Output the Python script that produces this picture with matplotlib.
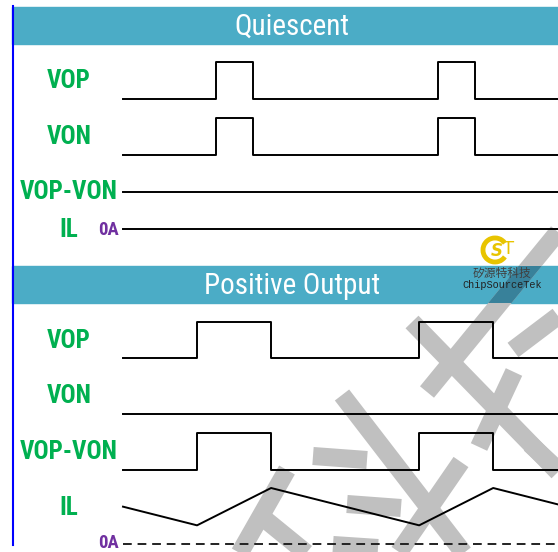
import matplotlib
matplotlib.use("Agg")
import matplotlib.pyplot as plt
from matplotlib.patches import Rectangle, Arc
from matplotlib.lines import Line2D

# --- data -------------------------------------------------------------
# time in units of the quiescent pulse width
t_end = 11.75
quiescent_edges = [2.5, 3.5, 8.5, 9.5]   # VOP and VON pulses (in phase)
positive_vop_edges = [2.0, 4.0, 8.0, 10.0]
positive_von_edges = []                   # VON stays low
il_time = [0, 2, 4, 8, 10, 11.75]
il_amp = [1.0, 0.5, 1.5, 0.5, 1.5, 1.06]  # inductor current, 0A = 0

quiescent_labels = ["VOP", "VON", "VOP-VON", "IL"]
positive_labels = ["VOP", "VON", "VOP-VON", "IL"]
titles = ["Quiescent", "Positive Output"]

# --- style ------------------------------------------------------------
W, H = 558, 552
header_color = "#4BACC6"
green = "#00B050"
purple = "#7030A0"
font = ["Roboto Condensed", "DejaVu Sans"]


def square(edges):
    t, y, level = [0], [0], 0
    for e in edges:
        t += [e, e]
        y += [level, 1 - level]
        level = 1 - level
    t.append(t_end)
    y.append(level)
    return t, y


def fx(x):
    return x / W


def fy(y):
    return 1 - y / H


fig = plt.figure(figsize=(W / 100, H / 100), dpi=100)


def row_axes(y_base, y_top, ymax=1.0):
    ax = fig.add_axes([fx(123), fy(y_base), fx(W - 123), (y_base - y_top) / H])
    ax.set_xlim(0, t_end)
    ax.set_ylim(0, ymax)
    ax.axis("off")
    return ax


def trace(ax, t, y, **kw):
    ax.plot(t, y, color="black", lw=1.4, clip_on=False, **kw)


# headers and left rule
headers = []
for y0, title in zip([7, 266], titles):
    r = Rectangle((fx(12), fy(y0 + 37)), fx(W - 12), 37 / H,
                  transform=fig.transFigure, color=header_color, zorder=-3)
    fig.patches.append(r)
    headers.append(r)
    fig.text(fx(292), fy(y0 + 20), title, color="white", fontsize=21,
             family=font, ha="center", va="center", zorder=4)
fig.lines.append(Line2D([fx(12.5), fx(12.5)], [fy(6), fy(545)],
                        transform=fig.transFigure, color="#0000FF", lw=1.5))

# quiescent
trace(row_axes(99, 62), *square(quiescent_edges))
trace(row_axes(155, 118), *square(quiescent_edges))
trace(row_axes(192, 155), [0, t_end], [0, 0])
trace(row_axes(229, 192), [0, t_end], [0, 0])

# positive output
vop_t, vop = square(positive_vop_edges)
von_t, von = square(positive_von_edges)
trace(row_axes(358, 322), vop_t, vop)
trace(row_axes(414, 378), von_t, von)
trace(row_axes(470, 433), vop_t, [v - von[0] for v in vop])
ax_il = row_axes(544, 488, ymax=1.5)
trace(ax_il, il_time, il_amp)
ax_il.plot([0, t_end], [0, 0], color="#222222", lw=1.4, ls=(0, (4.5, 3)), clip_on=False)

# labels
for ys, labels in [([81, 137, 192, 230], quiescent_labels),
                   ([341, 396, 452, 508], positive_labels)]:
    for y, lab in zip(ys, labels):
        fig.text(fx(69), fy(y), lab, color=green, fontsize=18, fontweight="bold",
                 family=font, ha="center", va="center")
for y in [230, 543]:
    fig.text(fx(119), fy(y), "0A", color=purple, fontsize=13.5, fontweight="bold",
             family=font, ha="right", va="center")

# watermark (gray strokes, darker where they cross a header)
wm = [((558, 232), (427, 392)), ((412, 322), (558, 472)), ((513, 350), (558, 316)),
      ((514, 372), (479, 447)), ((342, 395), (466, 556)), ((461, 462), (399, 552)),
      ((313, 456), (367, 460)), ((347, 504), (401, 508)), ((333, 545), (378, 548)),
      ((287, 470), (238, 556)), ((256, 512), (310, 556)), ((530, 444), (558, 470))]
for (x0, y0), (x1, y1) in wm:
    xs, ys = [fx(x0), fx(x1)], [fy(y0), fy(y1)]
    fig.lines.append(Line2D(xs, ys, transform=fig.transFigure, color="#C0C0C0",
                            lw=13, solid_capstyle="butt", zorder=-2))
    for r in headers:
        ln = Line2D(xs, ys, transform=fig.transFigure, color="#38819A",
                    lw=13, solid_capstyle="butt", zorder=-1)
        ln.set_clip_path(r)
        fig.lines.append(ln)

# logo
fig.patches.append(Arc((fx(495), fy(250)), 24 / W, 24 / H, theta1=35, theta2=325,
                       transform=fig.transFigure, color="#E8C400", lw=3.5, zorder=6))
fig.text(fx(497), fy(251), "S", color="#E8C400", fontsize=12, fontweight="bold",
         style="italic", ha="center", va="center", zorder=6)
fig.text(fx(509), fy(249), "T", color="#E8C400", fontsize=13,
         ha="center", va="center", zorder=6)
fig.text(fx(502), fy(273), "矽源特科技", color="#404040", fontsize=8.5,
         family=["Noto Sans CJK SC", "DejaVu Sans"], ha="center", va="center", zorder=6)
fig.text(fx(502), fy(285), "ChipSourceTek", color="#222222", fontsize=7.4,
         family="Liberation Mono", ha="center", va="center", zorder=6)

fig.savefig("out.png", dpi=100)
